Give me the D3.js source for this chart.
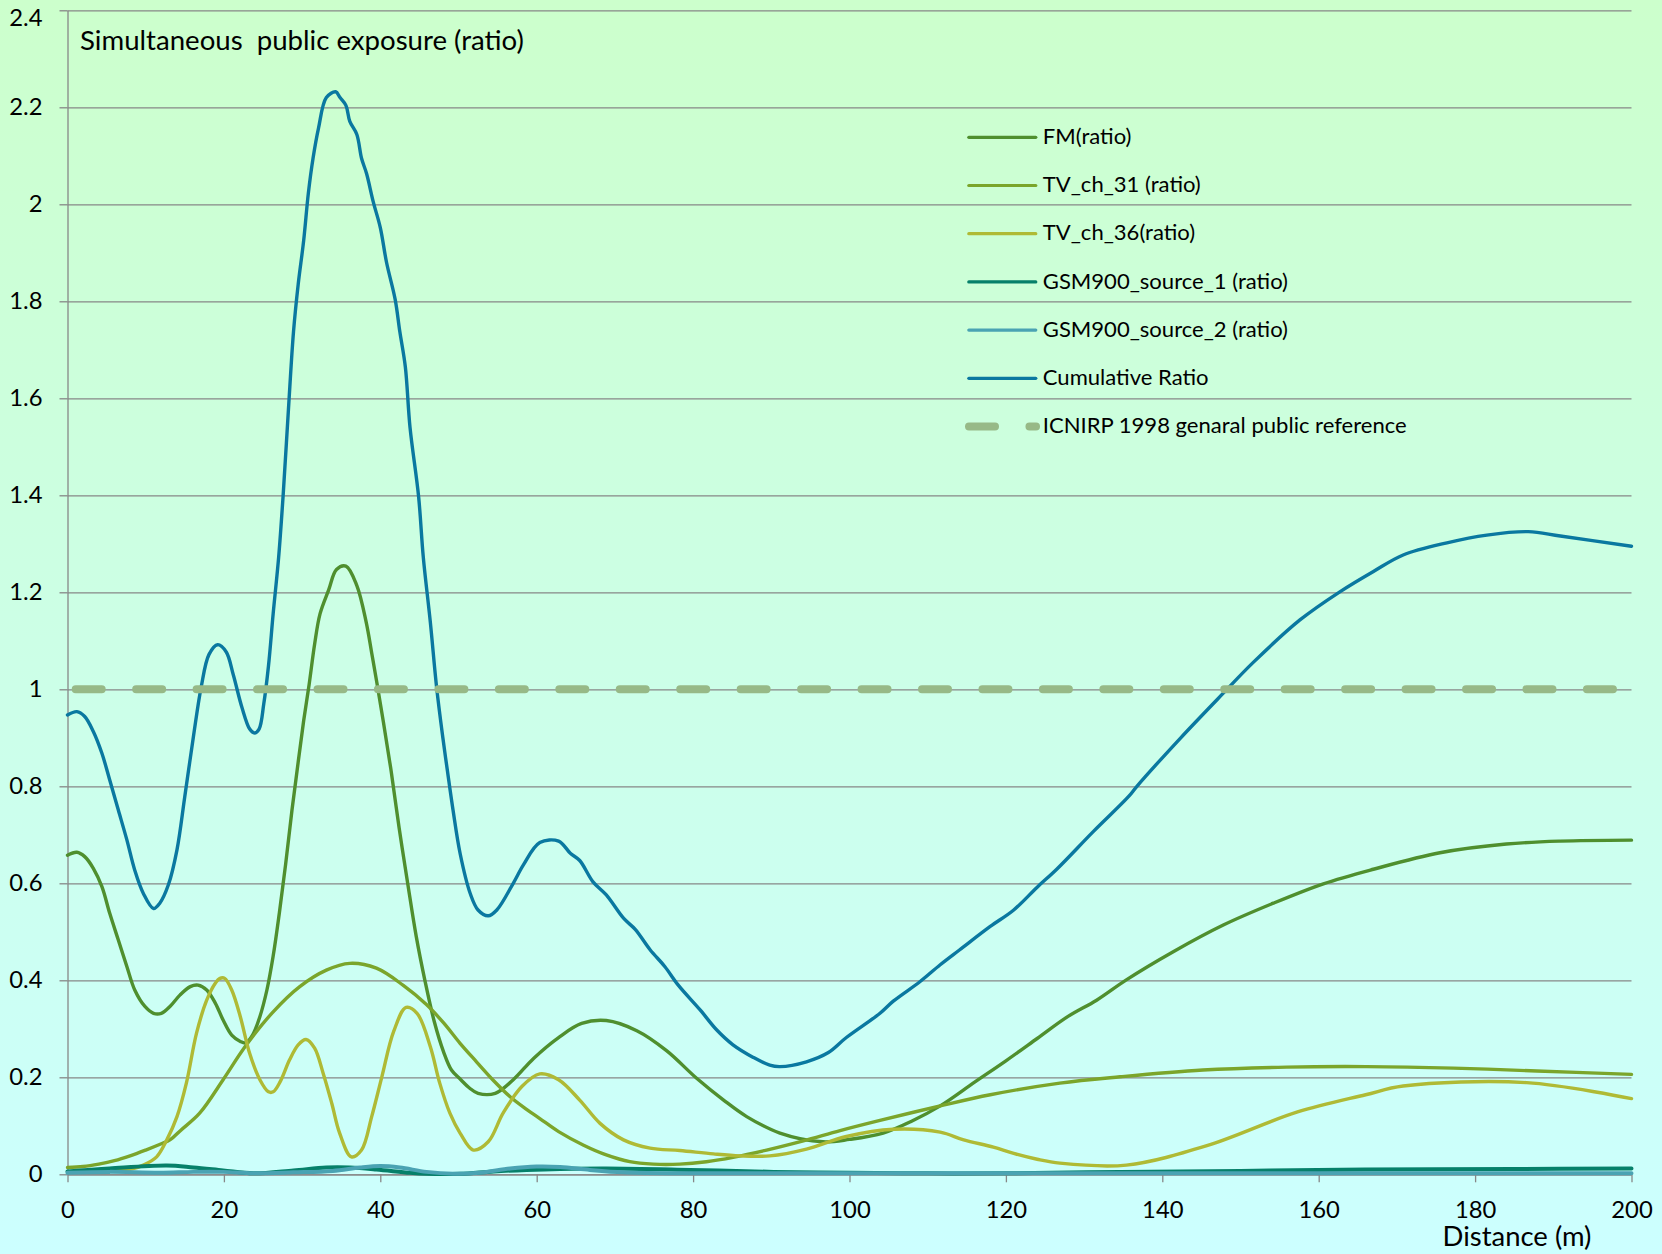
<!DOCTYPE html>
<html><head><meta charset="utf-8">
<script src="https://cdn.jsdelivr.net/npm/d3@7"></script>
<style>
html,body{margin:0;padding:0;background:#ccffe6;}
svg{display:block;}
text{font-family:Lato,"Open Sans",sans-serif;fill:#000;}
</style>
</head><body>
<svg id="c" width="1662" height="1254"></svg>
<script>
// ---------- data ----------
const xTicks = [0,20,40,60,80,100,120,140,160,180,200];
const yTicks = [0,0.2,0.4,0.6,0.8,1,1.2,1.4,1.6,1.8,2,2.2,2.4];
const titleText = "Simultaneous  public exposure (ratio)";
const xAxisTitle = "Distance (m)";
const seriesNames = ["FM(ratio)","TV_ch_31 (ratio)","TV_ch_36(ratio)","GSM900_source_1 (ratio)","GSM900_source_2 (ratio)","Cumulative Ratio","ICNIRP 1998 genaral public reference"];

const fm = [[0,0.658],[1.2,0.664],[2.2,0.655],[3.3,0.631],[4.4,0.593],[5.4,0.538],[6.5,0.483],[7.6,0.428],[8.6,0.38],[9.9,0.346],[11.0,0.332],[12.0,0.332],[13.1,0.346],[14.4,0.37],[15.7,0.387],[16.7,0.39],[17.8,0.38],[18.9,0.353],[19.9,0.318],[21.0,0.287],[22.1,0.274],[22.8,0.271],[23.7,0.288],[24.6,0.325],[25.5,0.38],[26.3,0.45],[27.1,0.54],[27.9,0.64],[28.7,0.75],[29.5,0.85],[30.2,0.935],[30.9,1.01],[31.6,1.093],[32.3,1.156],[33.4,1.205],[34.4,1.247],[35.6,1.254],[37.0,1.214],[38.2,1.138],[38.9,1.075],[39.6,1.01],[40.4,0.932],[41.4,0.83],[42.4,0.715],[43.5,0.6],[44.6,0.49],[45.7,0.4],[46.9,0.315],[48.1,0.252],[49.1,0.215],[50.3,0.195],[51.4,0.178],[52.5,0.167],[54.7,0.167],[57.0,0.195],[59.6,0.239],[62.8,0.282],[65.75,0.311],[68.9,0.317],[72.8,0.296],[76.6,0.255],[80.45,0.198],[83.9,0.153],[86.85,0.119],[91.1,0.085],[96.6,0.067],[100,0.072],[104.3,0.085],[108,0.11],[111.6,0.141],[116,0.19],[120,0.234],[124,0.28],[127.9,0.325],[131.6,0.359],[135.4,0.401],[141.4,0.459],[147.8,0.514],[154.2,0.559],[160.6,0.599],[167,0.629],[175.5,0.663],[184,0.681],[190.9,0.687],[200,0.689]];

const tv31 = [[0,0.014],[2,0.016],[4,0.021],[6,0.028],[8,0.038],[10,0.05],[12,0.063],[13.1,0.071],[14.5,0.091],[16.9,0.126],[19.9,0.195],[22.7,0.263],[26.3,0.335],[29.7,0.387],[33.1,0.421],[36.1,0.435],[39.5,0.425],[42.9,0.39],[45.9,0.35],[48.1,0.312],[50.2,0.27],[52.3,0.232],[54.5,0.193],[56.6,0.16],[58.7,0.134],[60.4,0.115],[62.8,0.088],[66,0.06],[68.9,0.04],[71.9,0.026],[74.9,0.021],[78.3,0.021],[81.7,0.026],[85.1,0.035],[89.4,0.05],[94.1,0.069],[98.8,0.09],[103.9,0.111],[111.6,0.141],[118,0.164],[126.9,0.188],[134.6,0.201],[145.2,0.215],[155.9,0.221],[166.1,0.222],[177.2,0.219],[187.9,0.213],[200,0.206]];

const tv36 = [[0,0.005],[4,0.006],[8,0.01],[9.7,0.019],[11.4,0.036],[12.7,0.071],[14.0,0.119],[15.2,0.188],[16.5,0.291],[17.8,0.359],[18.9,0.394],[19.5,0.404],[20.1,0.404],[21.0,0.38],[22.1,0.325],[23.3,0.249],[24.6,0.195],[25.7,0.17],[26.3,0.17],[27.2,0.191],[28.4,0.236],[29.5,0.267],[30.5,0.278],[31.6,0.26],[32.7,0.208],[33.8,0.146],[34.8,0.085],[36.3,0.036],[37.6,0.05],[38.9,0.119],[40.2,0.201],[41.7,0.294],[43.3,0.344],[44.7,0.332],[46.4,0.263],[47.6,0.188],[48.9,0.126],[50.2,0.085],[51.9,0.05],[53.8,0.067],[55.7,0.126],[58.1,0.181],[60.4,0.207],[62.8,0.195],[65.5,0.153],[68.1,0.105],[71.1,0.071],[74.5,0.054],[78.3,0.049],[82.6,0.042],[86.0,0.038],[89.8,0.038],[94.5,0.052],[99.6,0.078],[105.6,0.093],[111.6,0.087],[114.6,0.071],[118.4,0.056],[121.0,0.043],[124.0,0.031],[126.9,0.023],[135.4,0.019],[145.7,0.059],[157.2,0.128],[166.0,0.164],[170.8,0.182],[186.6,0.189],[200,0.156]];

const gsm1 = [[0,0.006],[5.4,0.012],[12.7,0.018],[16.1,0.014],[19.9,0.008],[23.8,0.002],[28.9,0.008],[33.1,0.014],[36.1,0.014],[39.5,0.01],[43.8,0.003],[45.9,0.001],[50.2,0.001],[54.5,0.006],[58.7,0.009],[63,0.011],[68.9,0.012],[79.6,0.009],[90.3,0.005],[100,0.003],[110,0.002],[120,0.002],[134.6,0.005],[150,0.007],[166,0.01],[185,0.011],[200,0.012]];

const gsm2 = [[0,0.003],[5.4,0.005],[11.8,0.003],[16.1,0.005],[19.9,0.005],[23.8,0.002],[28.9,0.004],[33.9,0.007],[37.4,0.014],[40,0.017],[42.5,0.014],[45.9,0.005],[49.3,0.001],[52.7,0.003],[56.6,0.012],[60,0.016],[63,0.015],[66.8,0.009],[71.1,0.004],[77.5,0.002],[100,0.002],[150,0.002],[200,0.002]];

const cumulative = [[0,0.947],[1.2,0.954],[2.2,0.944],[3.3,0.913],[4.4,0.868],[5.4,0.813],[6.5,0.751],[7.6,0.689],[8.6,0.627],[9.7,0.579],[11.0,0.548],[11.8,0.559],[12.9,0.597],[14.0,0.669],[15.0,0.779],[16.1,0.902],[17.1,1.005],[18.1,1.072],[19.2,1.092],[20.3,1.077],[21.2,1.03],[22.3,0.963],[23.3,0.918],[23.9,0.91],[24.5,0.918],[25.1,0.97],[25.7,1.048],[26.3,1.156],[27.0,1.272],[27.6,1.406],[28.25,1.576],[28.9,1.737],[29.5,1.835],[30.2,1.925],[30.8,2.023],[31.4,2.095],[32.1,2.157],[33.1,2.22],[34.3,2.232],[34.85,2.22],[35.6,2.204],[36.1,2.171],[37.0,2.144],[37.6,2.095],[38.25,2.063],[39.1,2.005],[40.0,1.952],[40.8,1.88],[41.9,1.804],[42.5,1.737],[43.2,1.665],[43.8,1.54],[44.9,1.397],[45.5,1.272],[46.4,1.138],[47.2,1.004],[48.0,0.9],[48.6,0.83],[49.3,0.751],[50.2,0.662],[51.5,0.579],[52.5,0.545],[53.8,0.533],[54.9,0.545],[57.0,0.6],[58.3,0.638],[60.4,0.684],[62.8,0.687],[64.3,0.662],[65.5,0.647],[67.2,0.603],[68.9,0.576],[71.1,0.528],[72.6,0.505],[74.5,0.463],[76.4,0.428],[78.1,0.39],[80.9,0.339],[83.0,0.298],[85.1,0.267],[87.7,0.241],[89.8,0.225],[91.1,0.222],[94.5,0.232],[97.3,0.251],[99.6,0.282],[103.9,0.332],[105.6,0.357],[109.0,0.397],[111.6,0.432],[114.1,0.463],[118.0,0.511],[121.0,0.545],[124.0,0.592],[126.5,0.629],[131.2,0.707],[135.7,0.779],[136.7,0.799],[142.3,0.899],[147.8,0.992],[151.6,1.055],[157.6,1.143],[162.7,1.201],[167.0,1.243],[170.8,1.277],[176.4,1.302],[181.5,1.318],[186.8,1.325],[190.9,1.316],[200,1.295]];

const icnirp = [[0,1],[200,1]];

// ---------- styles ----------
const colors = ["#4f8f2e","#7ba52b","#afba35","#06806a","#4aa3b3","#0a78a0","#97b987"];
const widths = [3.4,3.4,3.4,4,4,3.4,8];
const seriesData = [fm,tv31,tv36,gsm1,gsm2,cumulative,icnirp];

const W=1662,H=1254;
const svg=d3.select('#c');
const defs=svg.append('defs');
const grad=defs.append('linearGradient').attr('id','bg').attr('x1',0).attr('y1',0).attr('x2',0).attr('y2',1);
grad.append('stop').attr('offset','0%').attr('stop-color','#ccffcc');
grad.append('stop').attr('offset','100%').attr('stop-color','#ccffff');
svg.append('rect').attr('width',W).attr('height',H).attr('fill','url(#bg)');

const x=d3.scaleLinear().domain([0,200]).range([67.5,1631.5]);
const y=d3.scaleLinear().domain([0,2.4]).range([1174.3,10.3]);
const gridCol='#878787';
const tickFont=23.8;

// gridlines
const grid=svg.append('g').attr('transform',`translate(${x(0)},0)`)
  .call(d3.axisLeft(y).tickValues(yTicks).tickSize(-(x(200)-x(0))).tickSizeOuter(0).tickFormat(''));
grid.select('.domain').remove();
grid.selectAll('.tick line').attr('stroke',gridCol).attr('stroke-width',1.3);

// y axis
const ya=svg.append('g').attr('transform',`translate(${x(0)},0)`)
  .call(d3.axisLeft(y).tickValues(yTicks).tickSize(8).tickSizeOuter(0).tickPadding(17)
    .tickFormat(d=>String(+d.toFixed(1))));
ya.select('.domain').attr('stroke',gridCol).attr('stroke-width',1.3);
ya.selectAll('.tick line').attr('stroke',gridCol).attr('stroke-width',1.3);
ya.selectAll('text').attr('font-size',tickFont).attr('font-family','Lato').attr('fill','#000');
// top label sits slightly lower so it stays inside the picture
ya.selectAll('.tick').filter(d=>d===2.4).select('text').attr('dy','0.62em');

// x axis
const xa=svg.append('g').attr('transform',`translate(0,${y(0)})`)
  .call(d3.axisBottom(x).tickValues(xTicks).tickSize(8).tickSizeOuter(0).tickPadding(18.8).tickFormat(d3.format('d')));
xa.select('.domain').attr('stroke',gridCol).attr('stroke-width',1.3);
xa.selectAll('.tick line').attr('stroke',gridCol).attr('stroke-width',1.3);
xa.selectAll('text').attr('font-size',tickFont).attr('font-family','Lato').attr('fill','#000');

function fitWidth(t,target){
  const w=t.node().getComputedTextLength();
  if(w>0){const fs=parseFloat(t.attr('font-size'));t.attr('font-size',fs*target/w);}
  return parseFloat(t.attr('font-size'));
}

// x axis title
const xt=svg.append('text').attr('x',1517).attr('y',1246).attr('text-anchor','middle')
  .attr('font-size',26).text(xAxisTitle);
fitWidth(xt,149);

// series
const line=d3.line().x(d=>x(d[0])).y(d=>y(d[1])).curve(d3.curveCatmullRom.alpha(0.5));
const plot=svg.append('g');
seriesData.forEach((data,i)=>{
  const p=plot.append('path').datum(data).attr('d',line).attr('fill','none')
    .attr('stroke',colors[i]).attr('stroke-width',widths[i])
    .attr('stroke-linejoin','round').attr('stroke-linecap','round');
  if(i===6){p.attr('stroke-dasharray','26 34.45').attr('stroke-dashoffset',52.25);}
});

// title
const tt=svg.append('text').attr('x',80).attr('y',50).attr('font-size',28)
  .style('white-space','pre').text(titleText);
fitWidth(tt,444);

// legend
const lg=svg.append('g');
const rowY=i=>137.3+i*48.2;
seriesNames.forEach((name,i)=>{
  const yy=rowY(i);
  if(i===6){
    lg.append('line').attr('x1',969).attr('x2',1036).attr('y1',yy).attr('y2',yy)
      .attr('stroke',colors[i]).attr('stroke-width',widths[i]).attr('stroke-linecap','round')
      .attr('stroke-dasharray','26 34.45');
  } else {
    lg.append('line').attr('x1',968.8).attr('x2',1035.8).attr('y1',yy).attr('y2',yy)
      .attr('stroke',colors[i]).attr('stroke-width',3.2).attr('stroke-linecap','round');
  }
});
const labels=seriesNames.map((name,i)=>lg.append('text').attr('x',1042.8).attr('y',rowY(i)+6.7)
  .attr('font-size',22).text(name));
const lfs=fitWidth(labels[6],364);
labels.forEach(t=>t.attr('font-size',lfs));
</script>
</body></html>
